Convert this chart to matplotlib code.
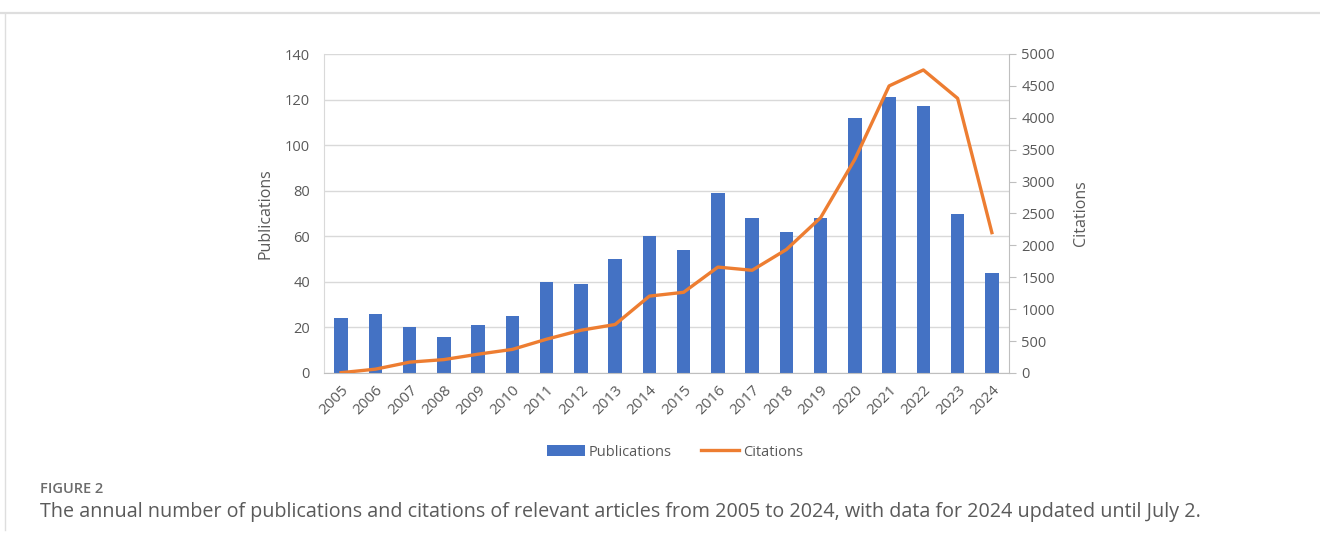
import matplotlib

matplotlib.use("Agg")
import matplotlib.pyplot as plt
from matplotlib.lines import Line2D
from matplotlib.patches import Patch

# ─── data ─────────────────────────────────────────────────────────────────
years = [str(y) for y in range(2005, 2025)]
publications = [24, 26, 20, 16, 21, 25, 40, 39, 50, 60,
                54, 79, 68, 62, 68, 112, 121, 117, 70, 44]
citations = [5, 60, 170, 210, 295, 370, 530, 670, 760, 1205,
             1265, 1660, 1610, 1935, 2435, 3350, 4500, 4750, 4305, 2200]
pub_ticks = [0, 20, 40, 60, 80, 100, 120, 140]
cit_ticks = [0, 500, 1000, 1500, 2000, 2500, 3000, 3500, 4000, 4500, 5000]

BLUE = "#4472C4"
ORANGE = "#ED7D31"
TEXT = "#595959"
GRID = "#D9D9D9"

plt.rcParams["font.family"] = ["Open Sans", "DejaVu Sans"]

fig = plt.figure(figsize=(13.2, 5.41), dpi=100)
fig.patch.set_facecolor("white")

# frame lines around the figure panel
fig.add_artist(Line2D([0, 1], [1 - 13 / 541] * 2, color="#DEDEDE", lw=1.6))
fig.add_artist(Line2D([4.5 / 1320] * 2, [0.02, 1 - 13 / 541], color="#DEDEDE", lw=1.0))

ax = fig.add_axes([324 / 1320, 1 - 373 / 541, 685 / 1320, 319 / 541])
xs = list(range(len(years)))
ax.bar(xs, publications, width=0.4, color=BLUE, zorder=2)
ax.set_xlim(-0.5, len(years) - 0.5)
ax.set_ylim(0, 140)
ax.set_yticks(pub_ticks)
ax.grid(axis="y", color=GRID, lw=1.0, zorder=0)
ax.set_xticks(xs)
ax.set_xticklabels(years, rotation=45, ha="right", rotation_mode="anchor")
ax.tick_params(axis="both", length=0, colors=TEXT, labelsize=10.5)
ax.tick_params(axis="x", pad=7, labelsize=11)
ax.tick_params(axis="y", pad=10)
for side in ("top", "right"):
    ax.spines[side].set_visible(False)
ax.spines["left"].set_color(GRID)
ax.spines["bottom"].set_color("#BFBFBF")
ax.set_ylabel("Publications", color=TEXT, fontsize=11.5, labelpad=8)

ax2 = ax.twinx()
ax2.plot(xs, citations, color=ORANGE, lw=2.4, zorder=3)
ax2.set_ylim(0, 5000)
ax2.set_yticks(cit_ticks)
ax2.tick_params(axis="y", length=5, color="#BFBFBF", labelcolor=TEXT,
                labelsize=10.5, pad=4)
for side in ("top", "left", "bottom"):
    ax2.spines[side].set_visible(False)
ax2.spines["right"].set_color("#BFBFBF")
ax2.set_ylabel("Citations", color=TEXT, fontsize=11.5, labelpad=13)

handles = [Patch(facecolor=BLUE, label="Publications"),
           Line2D([], [], color=ORANGE, lw=2.4, label="Citations")]
fig.legend(handles=handles, loc="center", bbox_to_anchor=(675 / 1320, 1 - 452 / 541),
           ncol=2, frameon=False, fontsize=10.5, labelcolor=TEXT,
           handlelength=2.6, handleheight=0.7, columnspacing=2.0, handletextpad=0.3)

fig.text(40 / 1320, 1 - 489 / 541, "FIGURE 2", color="#6B6B6B", fontsize=10.5,
         fontweight="semibold", va="center", ha="left")
fig.text(40 / 1320, 1 - 512 / 541,
         "The annual number of publications and citations of relevant articles "
         "from 2005 to 2024, with data for 2024 updated until July 2.",
         color="#5A5A5A", fontsize=14.2, va="center", ha="left")

fig.savefig("out.png", dpi=100, facecolor="white")
